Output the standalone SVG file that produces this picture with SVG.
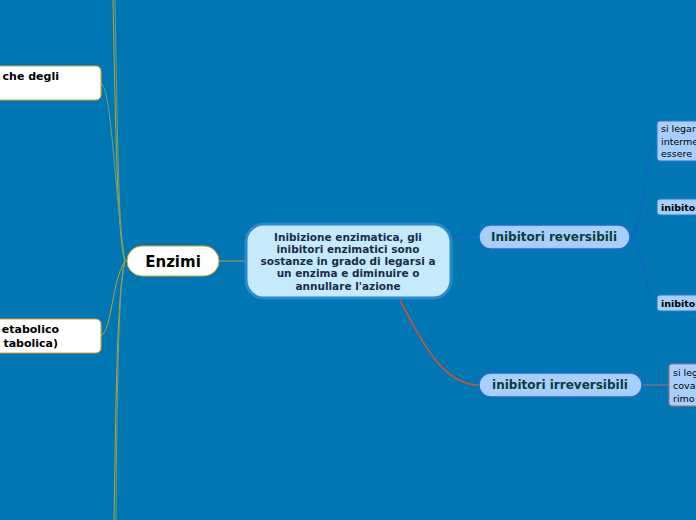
<svg xmlns="http://www.w3.org/2000/svg" width="696" height="520" viewBox="0 0 696 520">
<style>
text{font-family:"DejaVu Sans",sans-serif;font-weight:bold}
.w{fill:#fff;stroke:#d9a520;stroke-width:1}
.b{fill:#a8cffb;stroke:#1a6ad0;stroke-width:1.5}
.s{fill:#a8cffb;stroke:#2a7ad8;stroke-width:1}
.y{fill:none;stroke:#c0a030;stroke-width:1}
.g{fill:none;stroke:#7aa070;stroke-width:1}
.bl{fill:none;stroke:#1a5ad0;stroke-width:1}
</style>
<rect width="696" height="520" fill="#0077b3"/>
<g id="connectors">
<path class="y" d="M125 261 C117 240 115 100 113 0"/>
<path class="g" d="M125 261 C118 240 117 100 115 0"/>
<path class="g" d="M125 261 C115 200 112 90 101 83"/>
<path class="y" d="M125 261 C112 280 112 330 101 336"/>
<path class="y" d="M125 261 C117 290 116 400 114 520"/>
<path class="g" d="M125 261 C118 290 117 400 116 520"/>
<path class="y" d="M219 261 L246 261" stroke-width="1.2"/>
<path d="M451 240 C462 238 468 237 479 237" fill="none" stroke="#1a6ad0" stroke-width="2"/>
<path d="M400 300 C430 360 450 385 479 385" fill="none" stroke="#e05020" stroke-width="1.5"/>
<path class="bl" d="M630 237 C645 230 645 141 657 141"/>
<path class="bl" d="M630 237 C645 230 645 207 657 207"/>
<path class="bl" d="M630 237 C645 245 645 303 657 303"/>
<path d="M642 385 L669 385" stroke="#b07070" stroke-width="1"/>
</g>
<g id="n-top"><rect class="w" x="-20" y="66" width="121" height="34" rx="5"/><text x="59" y="80" font-size="11" text-anchor="end">che degli</text></g>
<g id="n-bottom"><rect class="w" x="-20" y="319" width="121" height="34" rx="5"/><text font-size="11" text-anchor="end"><tspan x="59" y="333">etabolico</tspan><tspan x="58" y="347">tabolica)</tspan></text></g>
<g id="n-enzimi"><rect class="w" x="127" y="246" width="92" height="30" rx="15"/><text x="173" y="267" font-size="15" text-anchor="middle">Enzimi</text></g>
<g id="n-central"><rect x="246" y="224" width="205" height="74" rx="18" fill="#c5eafb" stroke="#2a8ad0" stroke-width="3"/>
<text font-size="10.5" text-anchor="middle" fill="#1a2a4a"><tspan x="348" y="241">Inibizione enzimatica, gli</tspan><tspan x="348" y="253">inibitori enzimatici sono</tspan><tspan x="348" y="265">sostanze in grado di legarsi a</tspan><tspan x="348" y="277">un enzima e diminuire o</tspan><tspan x="348" y="290">annullare l'azione</tspan></text></g>
<g id="n-rev"><rect class="b" x="479" y="225" width="151" height="24" rx="12"/><text x="554" y="241" font-size="12" text-anchor="middle" fill="#0d3a3a">Inibitori reversibili</text></g>
<g id="n-irr"><rect class="b" x="479" y="373" width="163" height="24" rx="12"/><text x="560" y="389" font-size="12" text-anchor="middle" fill="#0d3a3a">inibitori irreversibili</text></g>
<g id="n-r1"><rect class="s" x="657" y="121" width="60" height="40" rx="3"/><text font-size="9.5" font-weight="normal" style="font-weight:normal"><tspan x="661" y="132">si legar</tspan><tspan x="661" y="145">interme</tspan><tspan x="661" y="157">essere</tspan></text></g>
<g id="n-r2"><rect class="s" x="657" y="199" width="60" height="16" rx="3"/><text x="661" y="211" font-size="9.5">inibito</text></g>
<g id="n-r3"><rect class="s" x="657" y="295" width="60" height="16" rx="3"/><text x="661" y="307" font-size="9.5">inibito</text></g>
<g id="n-i1"><rect x="669" y="364" width="40" height="42" rx="3" fill="#a8cffb" stroke="#b07070"/><text font-size="9.5" style="font-weight:normal"><tspan x="673" y="376">si leg</tspan><tspan x="673" y="389">cova</tspan><tspan x="673" y="402">rimo</tspan></text></g>
</svg>
